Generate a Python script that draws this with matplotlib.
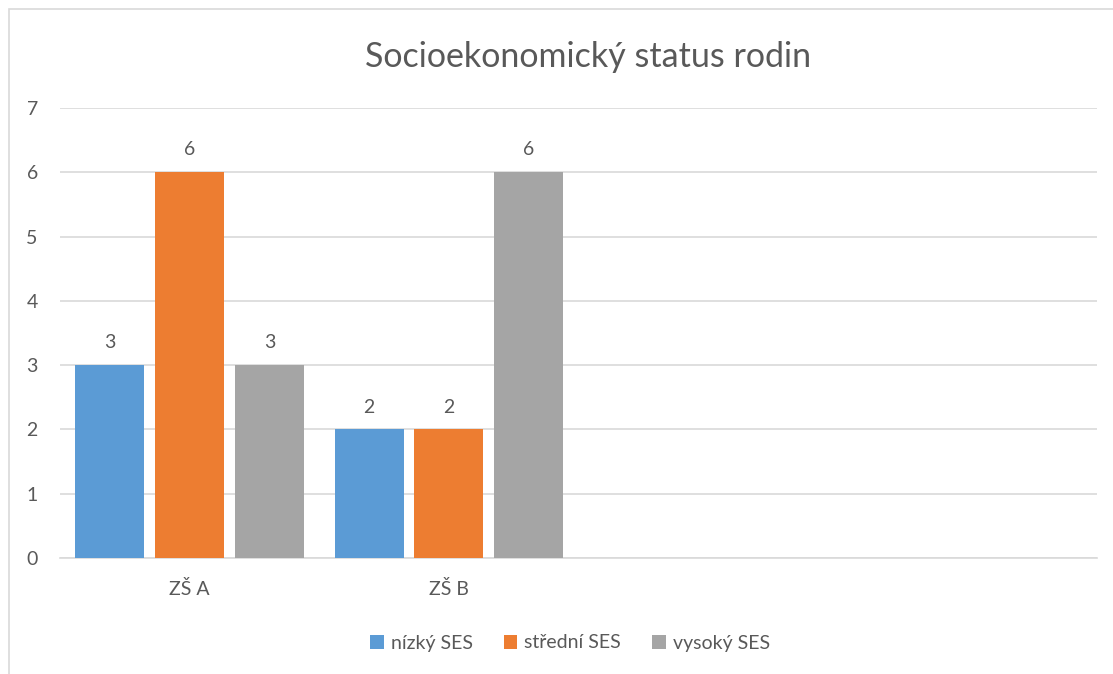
import numpy as np
import matplotlib.pyplot as plt
from matplotlib.patches import Rectangle

plt.rcParams['font.family'] = ['Lato', 'DejaVu Sans']

categories = ["ZŠ A", "ZŠ B"]
series = ["nízký SES", "střední SES", "vysoký SES"]
nizky = [3, 2]
stredni = [6, 2]
vysoky = [3, 6]
colors = ["#5B9BD5", "#ED7D31", "#A5A5A5"]
text_color = "#595959"

fig = plt.figure(figsize=(11.13, 6.74), dpi=100)
ax = fig.add_axes([60 / 1113, 1 - 558 / 674, 1037 / 1113, 450 / 674])

# chart border (only left/top visible in the reference)
fig.patches.append(Rectangle((9 / 1113, -0.1), 1.2, (674 - 9) / 674 + 0.1,
                             transform=fig.transFigure, fill=False,
                             edgecolor="#D9D9D9", linewidth=1.2))

x = np.arange(len(categories))
w = 0.266
step = 0.308
for i, (vals, name) in enumerate(zip([nizky, stredni, vysoky], series)):
    pos = x + (i - 1) * step
    bars = ax.bar(pos, vals, width=w, color=colors[i], label=name, zorder=3)
    for b, v in zip(bars, vals):
        ax.annotate(str(v), (b.get_x() + b.get_width() / 2, v),
                    xytext=(0, 10), textcoords="offset points",
                    ha="center", va="bottom", fontsize=14, color=text_color)

ax.set_xlim(-0.5, 3.5)
ax.set_ylim(0, 7)
ax.set_yticks(range(0, 8))
ax.set_xticks(x)
ax.set_xticklabels(categories)
ax.grid(axis="y", color="#D9D9D9", linewidth=1.2, zorder=0)
for s in ["top", "right", "left"]:
    ax.spines[s].set_visible(False)
ax.spines["bottom"].set_color("#D9D9D9")
ax.spines["bottom"].set_linewidth(1.2)
ax.tick_params(axis="both", length=0, labelsize=14, labelcolor=text_color)
ax.tick_params(axis="y", pad=16)
ax.tick_params(axis="x", pad=16)

fig.text(588 / 1113, 1 - 57 / 674, "Socioekonomický status rodin",
         ha="center", va="center", fontsize=24.5, color=text_color)

fig.legend(loc="center", bbox_to_anchor=(570 / 1113, 1 - 643 / 674), ncol=3,
           frameon=False, fontsize=14, labelcolor=text_color,
           handlelength=0.7, handleheight=0.7, handletextpad=0.35,
           columnspacing=1.6)

fig.savefig("out.png", dpi=100)
